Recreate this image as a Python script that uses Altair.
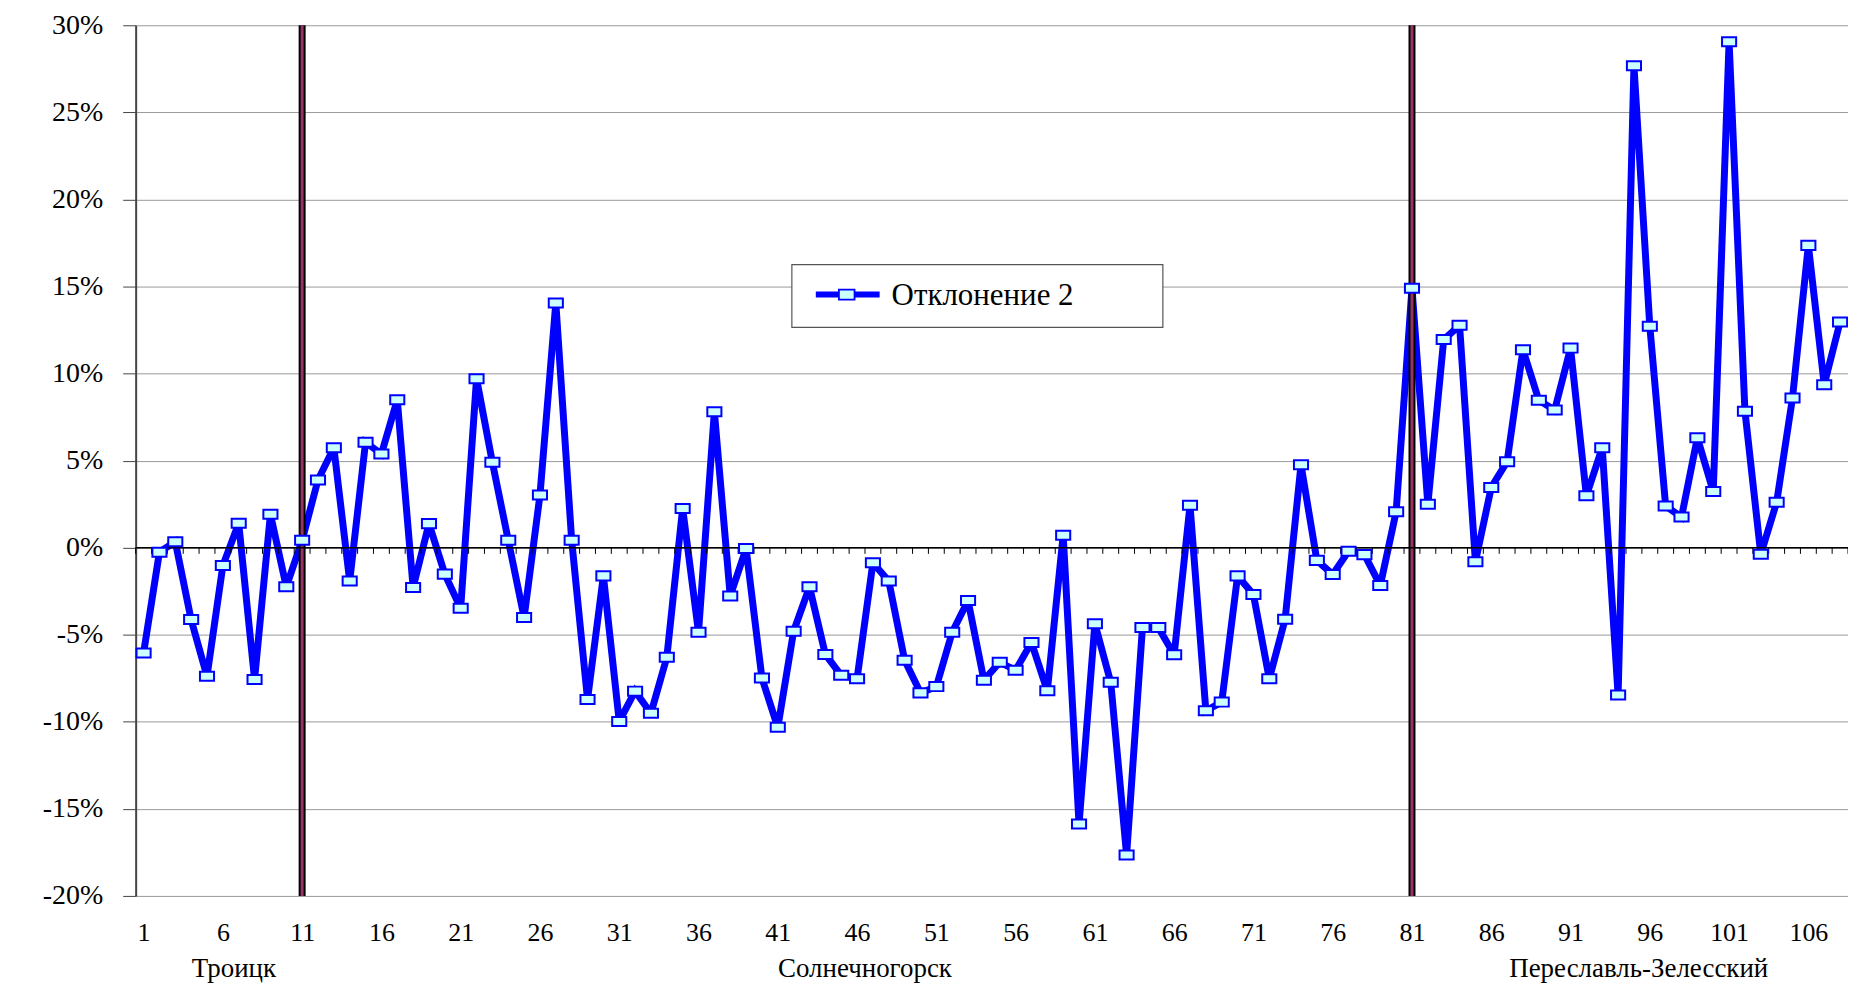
import altair as alt
import pandas as pd

# ---- data ----
categories = list(range(1, 109))
values_pct = [
    -6.05, -0.26, 0.34, -4.13, -7.39, -1.03, 1.40, -7.57, 1.92, -2.25,
    0.43, 3.89, 5.74, -1.92, 6.05, 5.38, 8.49, -2.29, 1.38, -1.52,
    -3.48, 9.70, 4.90, 0.43, -4.01, 3.02, 14.05, 0.43, -8.72, -1.62,
    -9.98, -8.24, -9.51, -6.30, 2.25, -4.86, 7.80, -2.77, -0.05, -7.49,
    -10.32, -4.80, -2.25, -6.13, -7.33, -7.53, -0.87, -1.92, -6.46, -8.34,
    -7.98, -4.86, -3.04, -7.61, -6.58, -7.04, -5.45, -8.22, 0.71, -15.87,
    -4.37, -7.73, -17.65, -4.58, -4.58, -6.15, 2.43, -9.37, -8.87, -1.62,
    -2.69, -7.53, -4.11, 4.76, -0.73, -1.54, -0.20, -0.40, -2.17, 2.06,
    14.90, 2.49, 11.95, 12.77, -0.81, 3.46, 4.94, 11.36, 8.47, 7.90,
    11.46, 2.98, 5.74, -8.46, 27.67, 12.71, 2.39, 1.76, 6.31, 3.22,
    29.06, 7.84, -0.38, 2.61, 8.60, 17.36, 9.36, 12.96,
]
separators = [11, 81]
group_names = ["Троицк", "Солнечногорск", "Переславль-Зелесский"]
group_centers = [6.7, 46.5, 95.3]
x_tick_labels = list(range(1, 107, 5))
y_ticks = [-0.20, -0.15, -0.10, -0.05, 0.0, 0.05, 0.10, 0.15, 0.20, 0.25, 0.30]
series_name = "Отклонение 2"

FONT = "Liberation Serif"
BLUE = "#0000FF"
MARKER_FILL = "#CCFFFF"
RECT_SHAPE = "M-1,-0.64H1V0.64H-1Z"

df = pd.DataFrame({"n": categories, "v": [v / 100 for v in values_pct]})
sep_df = pd.DataFrame({"n": separators})
bound_df = pd.DataFrame({"n": [c - 0.5 for c in categories] + [categories[-1] + 0.5], "v": 0.0})
grp_df = pd.DataFrame({"name": group_names, "n": group_centers})
zero_df = pd.DataFrame({"v": [0.0]})
one = pd.DataFrame({"k": [0]})

xs = alt.Scale(domain=[categories[0] - 0.5, categories[-1] + 0.5], nice=False, zero=False)
ys = alt.Scale(domain=[-0.2, 0.3], nice=False, zero=False)

x_axis = alt.Axis(values=x_tick_labels, format="d", grid=False, domain=False, ticks=False,
                  labelPadding=24, labelFont=FONT, labelFontSize=26, labelColor="black",
                  labelFlush=False, labelOverlap=False, labelBound=False, title=None)
y_axis = alt.Axis(values=y_ticks, labelExpr="round(datum.value*100) + '%'", grid=True,
                  gridColor="#9a9a9a", gridWidth=1, domainColor="#444444", domainWidth=2,
                  tickColor="#444444", tickSize=13, tickWidth=1, labelPadding=20,
                  labelFont=FONT, labelFontSize=28, labelColor="black", title=None)

X = alt.X("n:Q", scale=xs, axis=x_axis, title=None)
Y = alt.Y("v:Q", scale=ys, axis=y_axis, title=None)
Xp = alt.X("n:Q", scale=xs, title=None)
Yp = alt.Y("v:Q", scale=ys, title=None)

line = alt.Chart(df).mark_line(color=BLUE, strokeWidth=7, strokeJoin="miter",
                               strokeMiterLimit=2).encode(x=X, y=Y)
pts = alt.Chart(df).mark_point(shape=RECT_SHAPE, size=200, filled=True, fill=MARKER_FILL,
                               stroke=BLUE, strokeWidth=2, opacity=1).encode(x=Xp, y=Yp)

sep_black = alt.Chart(sep_df).mark_rule(color="black", strokeWidth=7).encode(x=Xp)
sep_maroon = alt.Chart(sep_df).mark_rule(color="#993366", strokeWidth=3).encode(x=Xp)

zero_line = alt.Chart(zero_df).mark_rule(color="black", strokeWidth=1.5).encode(y=Yp)
ticks = alt.Chart(bound_df).mark_rule(color="black", strokeWidth=1).encode(
    x=Xp, y=Yp, y2=alt.value(530))

groups = alt.Chart(grp_df).mark_text(font=FONT, fontSize=27, color="black",
                                     baseline="alphabetic", align="center").encode(
    x=Xp, y=alt.value(954), text="name:N")

leg_box = alt.Chart(one).mark_rect(fill="white", stroke="#555555", strokeWidth=1.2).encode(
    x=alt.value(658), x2=alt.value(1030), y=alt.value(240), y2=alt.value(303))
leg_line = alt.Chart(one).mark_rule(color=BLUE, strokeWidth=6).encode(
    x=alt.value(682), x2=alt.value(746), y=alt.value(270))
leg_pt = alt.Chart(one).mark_point(shape=RECT_SHAPE, size=246, filled=True, fill=MARKER_FILL,
                                   stroke=BLUE, strokeWidth=1.8, opacity=1).encode(
    x=alt.value(713), y=alt.value(270))
leg_text = alt.Chart(one).mark_text(font=FONT, fontSize=31, color="black", align="left",
                                    baseline="middle").encode(
    x=alt.value(758), y=alt.value(271), text=alt.value(series_name))

chart = alt.layer(
    line, sep_black, sep_maroon, zero_line, ticks, pts, groups,
    leg_box, leg_line, leg_pt, leg_text,
).properties(
    width=1717, height=873, autosize="none",
    padding={"left": 128, "top": 16, "right": 0, "bottom": 87},
).configure_view(stroke=None).configure_axis(
    labelFont=FONT, labelColor="black"
)

chart.save("out.html", embed_options={"renderer": "svg", "actions": False})
